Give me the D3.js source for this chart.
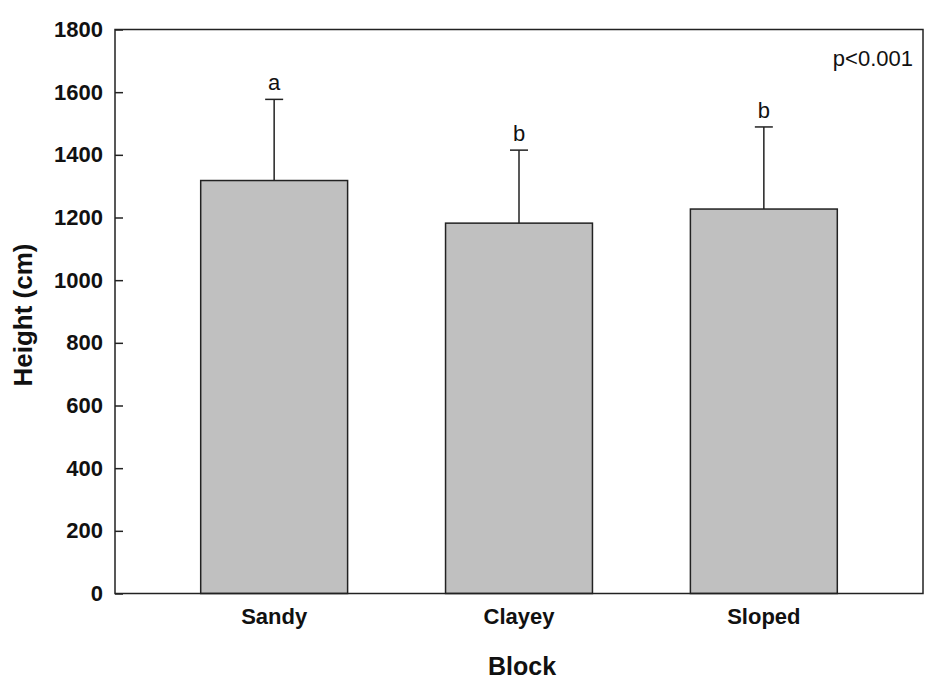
<!DOCTYPE html>
<meta charset="utf-8">
<style>
    html,
    body {
        margin: 0;
        padding: 0;
        background: #fff;
    }

    text {
        font-family: "Liberation Sans", Arial, sans-serif;
        fill: #111;
    }

    .tick text {
        font-weight: bold;
        font-size: 22px;
    }
</style>
<svg id="canvas" width="925" height="679"></svg>
<script src="https://d3js.org/d3.v7.min.js"></script>
<script>
    // chart values
    const blocks = ["Sandy", "Clayey", "Sloped"];
    const heights = [1318, 1182, 1227];
    const errors = [259, 233, 262];
    const letters = ["a", "b", "b"];
    const yTicks = [0, 200, 400, 600, 800, 1000, 1200, 1400, 1600, 1800];

    var svg = d3.select("#canvas");

    var plotLeft = 115, plotRight = 923, plotTop = 29.5, plotBottom = 593.5;

    var x = d3.scaleBand()
        .domain(blocks)
        .range([plotLeft, plotRight])
        .paddingInner(0.4)
        .paddingOuter(0.35);

    var y = d3.scaleLinear()
        .domain([0, 1800])
        .range([plotBottom, plotTop]);

    // bars
    svg.append("g")
        .selectAll("rect")
        .data(blocks)
        .enter().append("rect")
        .attr("x", function(d) { return x(d); })
        .attr("y", function(d, i) { return y(heights[i]); })
        .attr("width", x.bandwidth())
        .attr("height", function(d, i) { return y(0) - y(heights[i]); })
        .attr("fill", "#c0c0c0")
        .attr("stroke", "#222")
        .attr("stroke-width", 1.5);

    // error bars (upper only)
    var err = svg.append("g")
        .attr("stroke", "#222")
        .attr("stroke-width", 1.5);

    blocks.forEach(function(d, i) {
        var cx = x(d) + x.bandwidth() / 2;
        err.append("line")
            .attr("x1", cx).attr("x2", cx)
            .attr("y1", y(heights[i])).attr("y2", y(heights[i] + errors[i]));
        err.append("line")
            .attr("x1", cx - 9).attr("x2", cx + 9)
            .attr("y1", y(heights[i] + errors[i])).attr("y2", y(heights[i] + errors[i]));
        svg.append("text")
            .attr("x", cx)
            .attr("y", y(heights[i] + errors[i]) - 9)
            .attr("text-anchor", "middle")
            .style("font-size", "22px")
            .text(letters[i]);
    });

    // y axis with inward ticks
    var yAxis = svg.append("g")
        .attr("transform", "translate(" + plotLeft + ",0)")
        .call(d3.axisLeft(y).tickValues(yTicks).tickFormat(d3.format("d"))
            .tickSizeInner(-8).tickSizeOuter(0).tickPadding(12));
    yAxis.select(".domain").remove();
    yAxis.selectAll("line").attr("stroke", "#222").attr("stroke-width", 1.5);

    // x labels
    var xAxis = svg.append("g")
        .attr("transform", "translate(0," + plotBottom + ")")
        .call(d3.axisBottom(x).tickSize(0).tickPadding(15));
    xAxis.select(".domain").remove();

    // frame
    svg.append("rect")
        .attr("x", plotLeft)
        .attr("y", plotTop)
        .attr("width", plotRight - plotLeft)
        .attr("height", plotBottom - plotTop)
        .attr("fill", "none")
        .attr("stroke", "#222")
        .attr("stroke-width", 1.5);

    // titles
    svg.append("text")
        .attr("x", 522)
        .attr("y", 675)
        .attr("text-anchor", "middle")
        .style("font-weight", "bold")
        .style("font-size", "25px")
        .text("Block");

    svg.append("text")
        .attr("transform", "translate(32,315) rotate(-90)")
        .attr("text-anchor", "middle")
        .style("font-weight", "bold")
        .style("font-size", "26px")
        .text("Height (cm)");

    svg.append("text")
        .attr("x", 913)
        .attr("y", 66)
        .attr("text-anchor", "end")
        .style("font-size", "22px")
        .text("p<0.001");
</script>
